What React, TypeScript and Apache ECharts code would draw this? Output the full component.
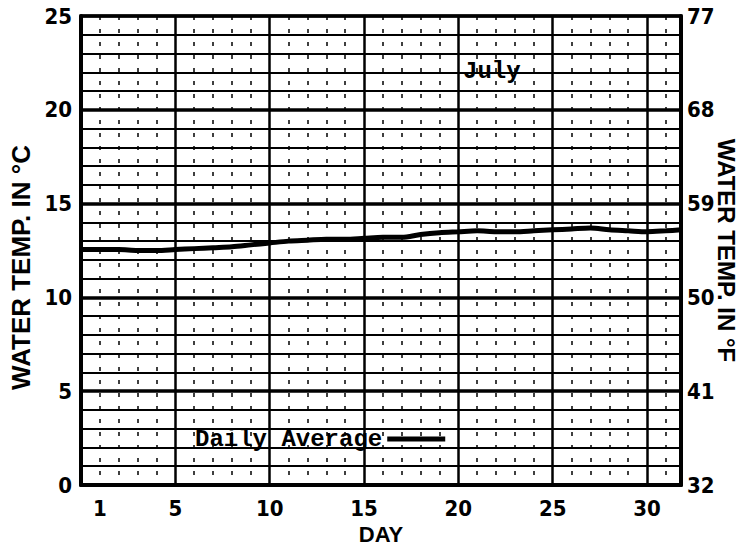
import React, { useEffect, useRef } from "react";
import * as echarts from "echarts";

// Days (x) and daily average water temperature in °C (y)
const days = [0, 1, 2, 3, 4, 5, 6, 7, 8, 9, 10, 11, 12, 13, 14, 15, 16, 17, 18, 19, 20, 21, 22, 23, 24, 25, 26, 27, 28, 29, 30, 31, 31.8];
const dailyAverage = [12.55, 12.55, 12.55, 12.5, 12.5, 12.55, 12.6, 12.65, 12.7, 12.8, 12.9, 13.0, 13.05, 13.1, 13.1, 13.15, 13.2, 13.2, 13.35, 13.45, 13.5, 13.55, 13.5, 13.5, 13.55, 13.6, 13.65, 13.7, 13.6, 13.55, 13.5, 13.55, 13.6];
const dayLabels = [1, 5, 10, 15, 20, 25, 30];
const celsiusTicks = [0, 5, 10, 15, 20, 25];
const fahrenheitLabels = ["32", "41", "50", "59", "68", "77"];

const seriesName = "Daily Average";
const monthLabel = "July";

const axisFont = '"Liberation Sans Narrow", "DejaVu Sans Condensed", "Liberation Sans", sans-serif';
const nameFont = '"Liberation Sans", Arial, sans-serif';
const typeFont = '"Liberation Mono", "DejaVu Sans Mono", monospace';

export default function App() {
  const ref = useRef<HTMLDivElement>(null);
  useEffect(() => {
    if (!ref.current) return;
    const chart = echarts.init(ref.current, undefined, { renderer: "svg" });
    const data = days.map((d, i) => [d, dailyAverage[i]]);
    chart.setOption({
      animation: false,
      backgroundColor: "#ffffff",
      title: {
        text: monthLabel,
        left: 458,
        top: 54,
        textStyle: { fontFamily: typeFont, fontSize: 24, fontWeight: "bold", color: "#000" },
      },
      legend: {
        data: [seriesName],
        left: 193,
        top: 425,
        align: "right",
        icon: "rect",
        itemWidth: 58,
        itemHeight: 5,
        padding: [2, 2],
        textStyle: { fontFamily: typeFont, fontSize: 24, fontWeight: "bold", color: "#000" },
      },
      grid: {
        left: 81,
        right: 62,
        top: 16,
        bottom: 66,
        containLabel: false,
        outerBoundsMode: "none",
        show: true,
        borderColor: "#000",
        borderWidth: 3,
      },
      xAxis: {
        type: "value",
        min: 0,
        max: 31.8,
        interval: 5,
        name: "DAY",
        nameLocation: "middle",
        nameGap: 35,
        nameTextStyle: { fontFamily: nameFont, fontSize: 22, fontWeight: "bold", color: "#000" },
        axisLine: { show: true, lineStyle: { color: "#000", width: 4 } },
        axisTick: { show: false },
        axisLabel: {
          customValues: dayLabels,
          margin: 12,
          fontFamily: axisFont,
          fontSize: 22,
          fontWeight: "bold",
          color: "#000",
        },
        splitLine: { show: true, lineStyle: { color: "#000", width: 2.5 } },
        minorTick: { show: false, splitNumber: 5 },
        minorSplitLine: { show: true, lineStyle: { color: "#000", width: 1.5, type: [4, 9] } },
      },
      yAxis: [
        {
          type: "value",
          min: celsiusTicks[0],
          max: celsiusTicks[celsiusTicks.length - 1],
          interval: 5,
          name: "WATER TEMP. IN °C",
          nameLocation: "middle",
          nameGap: 47,
          nameRotate: 90,
          nameTextStyle: {
            fontFamily: nameFont,
            fontSize: 26,
            fontWeight: "bold",
            color: "#000",
            padding: [0, 34, 0, 0],
          },
          axisLine: { show: true, lineStyle: { color: "#000", width: 4 } },
          axisTick: { show: false },
          axisLabel: { margin: 9, fontFamily: axisFont, fontSize: 22, fontWeight: "bold", color: "#000" },
          splitLine: { show: true, lineStyle: { color: "#000", width: 3.5 } },
          minorTick: { show: false, splitNumber: 5 },
          minorSplitLine: { show: true, lineStyle: { color: "#000", width: 2 } },
        },
        {
          type: "value",
          position: "right",
          min: celsiusTicks[0],
          max: celsiusTicks[celsiusTicks.length - 1],
          interval: 5,
          name: "WATER TEMP. IN °F",
          nameLocation: "middle",
          nameGap: 33,
          nameMoveOverlap: false,
          nameRotate: -90,
          nameTextStyle: {
            fontFamily: nameFont,
            fontSize: 24,
            fontWeight: "bold",
            color: "#000",
          },
          axisLine: { show: true, lineStyle: { color: "#000", width: 4 } },
          axisTick: { show: false },
          axisLabel: {
            margin: 6,
            fontFamily: axisFont,
            fontSize: 22,
            fontWeight: "bold",
            color: "#000",
            formatter: (_v: number, i: number) => fahrenheitLabels[i] ?? "",
          },
          splitLine: { show: false },
        },
      ],
      series: [
        {
          name: seriesName,
          type: "line",
          data,
          yAxisIndex: 0,
          showSymbol: false,
          smooth: 0.3,
          lineStyle: { color: "#000", width: 5 },
          itemStyle: { color: "#000" },
          z: 5,
        },
      ],
    });
    return () => chart.dispose();
  }, []);
  return (
    <div
      ref={ref}
      style={{ position: "fixed", left: 0, top: 0, width: 743, height: 551, background: "#fff" }}
    />
  );
}
